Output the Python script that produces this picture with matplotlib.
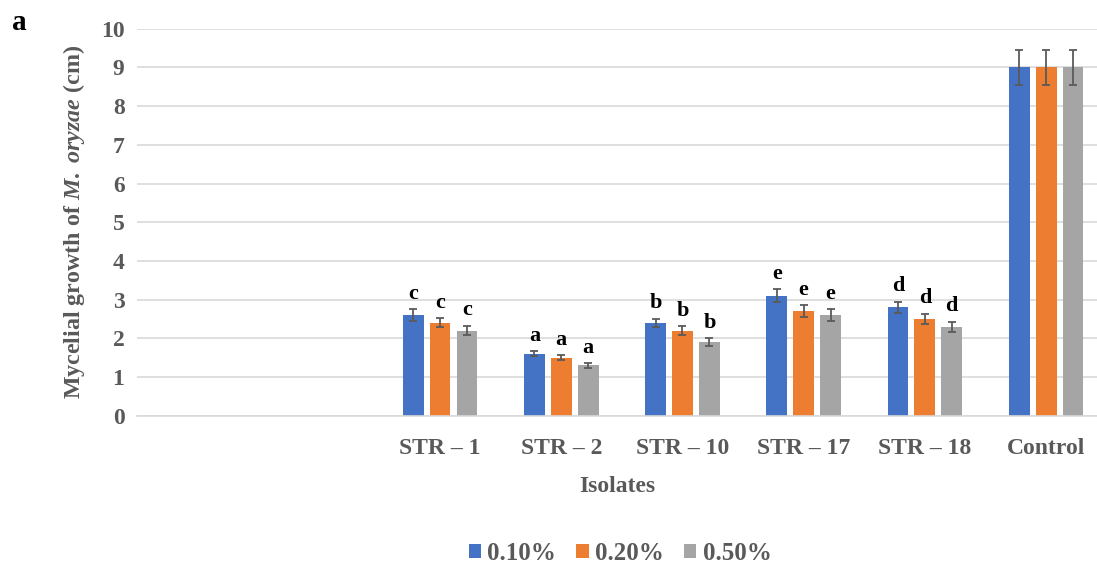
import numpy as np
import matplotlib.pyplot as plt

plt.rcParams['font.family'] = ['Liberation Serif', 'DejaVu Serif']
plt.rcParams['mathtext.fontset'] = 'custom'
plt.rcParams['mathtext.it'] = 'Liberation Serif:bold:italic'
plt.rcParams['mathtext.rm'] = 'Liberation Serif:bold'

# data
isolates = ["STR – 1", "STR – 2", "STR – 10", "STR – 17", "STR – 18", "Control"]
concentrations = ["0.10%", "0.20%", "0.50%"]
growth_010 = [2.6, 1.6, 2.4, 3.1, 2.8, 9.0]
growth_020 = [2.4, 1.5, 2.2, 2.7, 2.5, 9.0]
growth_050 = [2.2, 1.3, 1.9, 2.6, 2.3, 9.0]
err_010 = [0.15, 0.07, 0.11, 0.17, 0.15, 0.45]
err_020 = [0.12, 0.06, 0.11, 0.15, 0.14, 0.45]
err_050 = [0.12, 0.06, 0.10, 0.15, 0.13, 0.45]
letters = ["c", "a", "b", "e", "d", None]

colors = ["#4472C4", "#ED7D31", "#A5A5A5"]
text_gray = "#595959"

fig = plt.figure(figsize=(10.97, 5.67), dpi=100)
ax = fig.add_axes([137 / 1097, 151.3 / 567, 960 / 1097, 387 / 567])

x = np.arange(len(isolates))
width = 0.172
step = 0.222
series = [(growth_010, err_010), (growth_020, err_020), (growth_050, err_050)]
for i, (vals, errs) in enumerate(series):
    pos = x + (i - 1) * step
    ax.bar(pos, vals, width, color=colors[i], label=concentrations[i], zorder=2)
    ax.errorbar(pos, vals, yerr=errs, fmt='none', ecolor="#5a5a5a",
                elinewidth=1.3, capsize=3, capthick=1.3, zorder=3)
    for p, v, e, lt in zip(pos, vals, errs, letters):
        if lt:
            ax.annotate(lt, (p, v + e), xytext=(0, 4), textcoords='offset points',
                        ha='center', va='bottom', fontsize=16, fontweight='bold',
                        color='black')

ax.set_xlim(-2.5, 5.42)
ax.set_ylim(0, 10)
ax.set_yticks(range(0, 11))
ax.set_xticks(x)
ax.set_xticklabels(isolates)
ax.grid(axis='y', color='#D9D9D9', linewidth=1.2, zorder=0)
ax.set_axisbelow(True)
for s in ['top', 'right', 'left']:
    ax.spines[s].set_visible(False)
ax.spines['bottom'].set_color('#D9D9D9')
ax.spines['bottom'].set_linewidth(1.2)
ax.tick_params(axis='both', length=0, labelsize=17, labelcolor=text_gray)
ax.tick_params(axis='x', pad=16)
ax.tick_params(axis='y', pad=9)
for lbl in ax.get_xticklabels() + ax.get_yticklabels():
    lbl.set_fontweight('bold')

ax.set_xlabel("Isolates", fontsize=17, fontweight='bold', color=text_gray, labelpad=12)
ax.set_ylabel(r"Mycelial growth of $M.\ oryzae$ (cm)", fontsize=17.3,
              fontweight='bold', color=text_gray, labelpad=10)

leg = fig.legend(*ax.get_legend_handles_labels(), loc='center',
                 bbox_to_anchor=(620 / 1097, 1 - 553 / 567), ncol=3,
                 frameon=False, fontsize=18, handlelength=0.5, handleheight=0.5,
                 handletextpad=0.25, columnspacing=0.8)
for t in leg.get_texts():
    t.set_fontweight('bold')
    t.set_color(text_gray)

fig.text(12 / 1097, 1 - 22 / 567, "a", fontsize=21, fontweight='bold',
         ha='left', va='center')

fig.savefig("out.png", dpi=100)
